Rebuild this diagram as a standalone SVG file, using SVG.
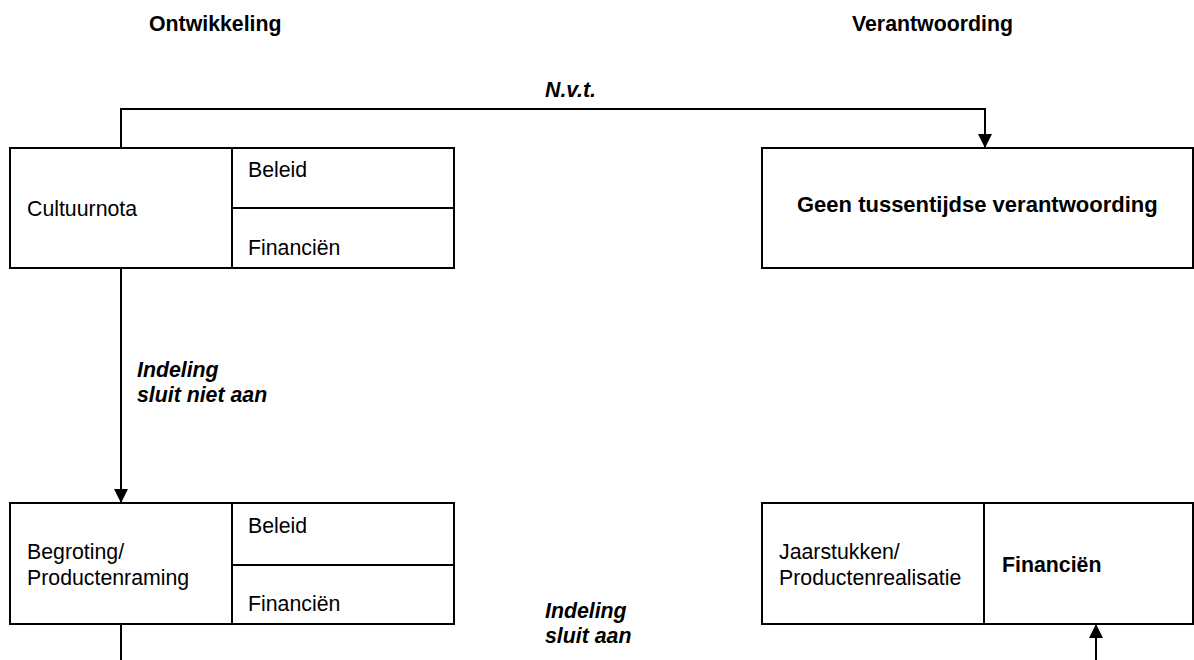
<svg xmlns="http://www.w3.org/2000/svg" width="1194" height="660" viewBox="0 0 1194 660">
<style>
text{font-family:"Liberation Sans",Arial,sans-serif;font-size:21.3px;fill:#000}
.b{font-weight:bold}
.bi{font-weight:bold;font-style:italic}
.box{fill:#fff;stroke:#000;stroke-width:2}
.ln{fill:none;stroke:#000;stroke-width:2}
</style>
<defs>
<marker id="ah" markerWidth="14" markerHeight="14" refX="14" refY="7" orient="auto" markerUnits="userSpaceOnUse">
<path d="M0,0 L14,7 L0,14 Z" fill="#000"/>
</marker>
</defs>
<rect width="1194" height="660" fill="#fff"/>
<g id="headers">
<text class="b" x="149" y="31">Ontwikkeling</text>
<text class="b" x="852" y="31">Verantwoording</text>
</g>
<g id="connectors">
<polyline class="ln" points="121,148 121,109 985,109 985,148" marker-end="url(#ah)"/>
<line class="ln" x1="121" y1="268" x2="121" y2="503" marker-end="url(#ah)"/>
<line class="ln" x1="121" y1="624" x2="121" y2="660"/>
<line class="ln" x1="1096" y1="660" x2="1096" y2="624" marker-end="url(#ah)"/>
<text class="bi" x="545" y="97">N.v.t.</text>
<text class="bi" x="137" y="377">Indeling</text>
<text class="bi" x="137" y="402">sluit niet aan</text>
<text class="bi" x="545" y="618">Indeling</text>
<text class="bi" x="545" y="643">sluit aan</text>
</g>
<g id="cultuurnota">
<rect class="box" x="10" y="148" width="444" height="120"/>
<line class="ln" x1="232" y1="148" x2="232" y2="268"/>
<line class="ln" x1="232" y1="208" x2="454" y2="208"/>
<text x="27" y="216">Cultuurnota</text>
<text x="248" y="177">Beleid</text>
<text x="248" y="255">Financiën</text>
</g>
<g id="geen-tussentijdse">
<rect class="box" x="762" y="148" width="431" height="120"/>
<text class="b" x="797" y="212" style="font-size:22px">Geen tussentijdse verantwoording</text>
</g>
<g id="begroting">
<rect class="box" x="10" y="503" width="444" height="121"/>
<line class="ln" x1="232" y1="503" x2="232" y2="624"/>
<line class="ln" x1="232" y1="565" x2="454" y2="565"/>
<text x="27" y="559">Begroting/</text>
<text x="27" y="585">Productenraming</text>
<text x="248" y="533">Beleid</text>
<text x="248" y="611">Financiën</text>
</g>
<g id="jaarstukken">
<rect class="box" x="762" y="503" width="431" height="121"/>
<line class="ln" x1="984" y1="503" x2="984" y2="624"/>
<text x="779" y="559">Jaarstukken/</text>
<text x="779" y="585">Productenrealisatie</text>
<text class="b" x="1002" y="572">Financiën</text>
</g>
</svg>
